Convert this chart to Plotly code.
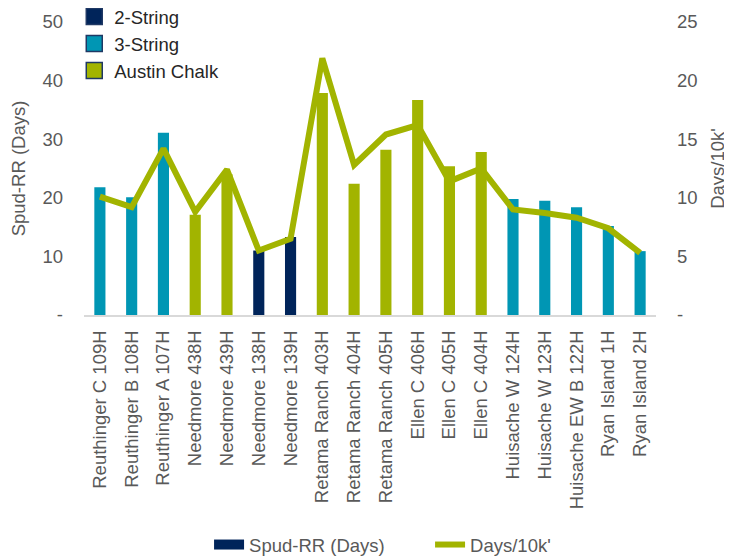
import plotly.graph_objects as go

wells = ["Reuthinger C 109H", "Reuthinger B 108H", "Reuthinger A 107H", "Needmore 438H",
         "Needmore 439H", "Needmore 138H", "Needmore 139H", "Retama Ranch 403H",
         "Retama Ranch 404H", "Retama Ranch 405H", "Ellen C 406H", "Ellen C 405H",
         "Ellen C 404H", "Huisache W 124H", "Huisache W 123H", "Huisache EW B 122H",
         "Ryan Island 1H", "Ryan Island 2H"]
well_type = ["3-String", "3-String", "3-String", "Austin Chalk", "Austin Chalk", "2-String",
             "2-String", "Austin Chalk", "Austin Chalk", "Austin Chalk", "Austin Chalk",
             "Austin Chalk", "Austin Chalk", "3-String", "3-String", "3-String", "3-String",
             "3-String"]
spud_rr_days = [21.8, 20.1, 31.1, 17.1, 24.0, 11.0, 13.3, 37.9, 22.4, 28.2, 36.7, 25.4,
                27.8, 19.8, 19.5, 18.4, 15.2, 10.9]
days_per_10k = [10.1, 9.2, 14.2, 8.8, 12.4, 5.5, 6.5, 21.9, 12.8, 15.4, 16.2, 11.4,
                12.5, 9.0, 8.7, 8.3, 7.4, 5.3]
left_ticks = [0, 10, 20, 30, 40, 50]
left_tick_text = ["-", "10", "20", "30", "40", "50"]
right_ticks = [0, 5, 10, 15, 20, 25]
right_tick_text = ["-", "5", "10", "15", "20", "25"]

type_colors = {"2-String": "#00245A", "3-String": "#0096B4", "Austin Chalk": "#A2B400"}
line_color = "#A2B400"
navy = "#00245A"
text_color = "#595959"
FS = 18.5

fig = go.Figure()
fig.add_trace(go.Bar(x=wells, y=spud_rr_days,
                     marker=dict(color=[type_colors[t] for t in well_type], line=dict(width=0)),
                     showlegend=False, yaxis="y"))
fig.add_trace(go.Scatter(x=wells, y=days_per_10k, mode="lines",
                         line=dict(color=line_color, width=6), showlegend=False, yaxis="y2"))

# category legend (top-left)
for t in ["2-String", "3-String", "Austin Chalk"]:
    fig.add_trace(go.Scatter(x=[wells[0]], y=[None], name=t, legend="legend", mode="markers",
                             marker=dict(symbol="square", size=20, color=type_colors[t],
                                         line=dict(color="#1F3864", width=1.5))))
# series legend (bottom)
fig.add_trace(go.Scatter(x=[wells[0]], y=[None], name="Spud-RR (Days)", legend="legend2",
                         mode="lines", line=dict(color=navy, width=10)))
fig.add_trace(go.Scatter(x=[wells[0]], y=[None], name="Days/10k'", mode="lines", legend="legend2",
                         line=dict(color=line_color, width=6), yaxis="y2"))

# page body has an 8px default margin, so the figure is sized/offset to compensate
fig.update_layout(
    width=724, height=549,
    margin=dict(l=76, r=76, t=14, b=242, autoexpand=False),
    paper_bgcolor="white", plot_bgcolor="white",
    barmode="overlay", bargap=0.65,
    font=dict(family="Liberation Sans, Arial, sans-serif", size=FS, color=text_color),
    xaxis=dict(tickangle=-90, showgrid=False, showline=True, linecolor="#D9D9D9", linewidth=2,
               ticks="", automargin=False, ticklabelstandoff=6, range=[-0.5, len(wells) - 0.5],
               tickfont=dict(size=FS, color=text_color)),
    yaxis=dict(range=[0, 50], tickvals=left_ticks, ticktext=left_tick_text, showgrid=False,
               zeroline=False, showline=False, ticks="", automargin=False, ticklabelstandoff=20,
               title=dict(text="Spud-RR (Days)", font=dict(size=FS, color=text_color), standoff=16)),
    yaxis2=dict(range=[0, 25], tickvals=right_ticks, ticktext=right_tick_text, overlaying="y",
                side="right", showgrid=False, zeroline=False, showline=False, ticks="",
                automargin=False, ticklabelstandoff=20,
                title=dict(text="Days/10k'", font=dict(size=FS, color=text_color), standoff=14)),
    legend=dict(x=-0.017, y=1.082, xanchor="left", yanchor="top", bgcolor="rgba(0,0,0,0)",
                font=dict(size=FS, color="#262626"), tracegroupgap=0, itemsizing="trace",
                traceorder="normal"),
    legend2=dict(orientation="h", x=0.605, xanchor="center", y=-0.785, yanchor="middle",
                 xref="paper", yref="paper", bgcolor="rgba(0,0,0,0)", entrywidth=176,
                 font=dict(size=FS, color=text_color)),
)

fig.write_html("out.html")
